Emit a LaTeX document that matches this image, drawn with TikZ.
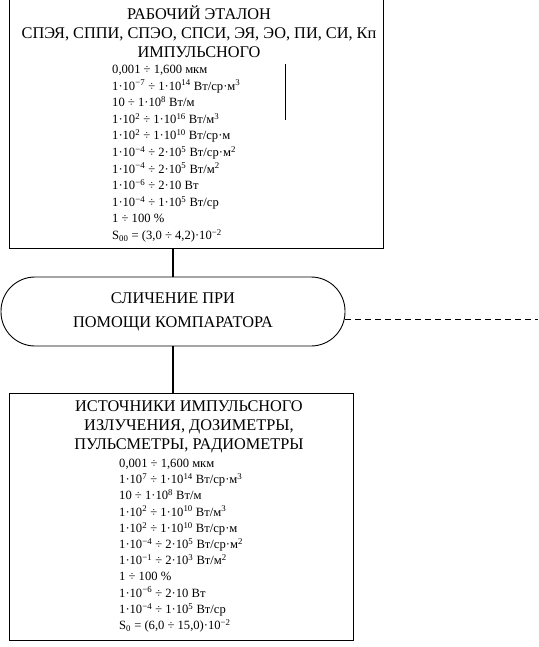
\documentclass[tikz,border=0pt]{standalone}
\usepackage{fontspec}
\setmainfont{Liberation Serif}
\usetikzlibrary{positioning}

\tikzset{
    frame/.style={draw, line width=0.9pt, rectangle, inner sep=0pt},
    stadium/.style={draw, line width=0.9pt, rectangle, rounded corners=34pt, inner sep=0pt,
        minimum width=344pt, minimum height=69pt},
    head/.style={align=center, font=\fontsize{16.3}{19}\selectfont, inner sep=0pt},
    data/.style={align=left, anchor=north west, font=\fontsize{12.6}{16.2}\selectfont, inner sep=0pt},
    link/.style={line width=1.6pt}
}

\begin{document}
\begin{tikzpicture}[x=1pt, y=-1pt]
            \useasboundingbox (0,0) rectangle (538,647);

            % рабочий эталон
            \node[frame, minimum width=374pt, minimum height=250pt] (etalon) at (196,123) {};
            \node[head] (etalonhead) at (199,32) {РАБОЧИЙ ЭТАЛОН\\
                СПЭЯ, СППИ, СПЭО, СПСИ, ЭЯ, ЭО, ПИ, СИ, Кп\\ ИМПУЛЬСНОГО};
            \node[data, font=\fontsize{12.6}{16.6}\selectfont] (etalondata) at (112,65) {0,001 ÷ 1,600 мкм\\
                1·10\textsuperscript{−7} ÷ 1·10\textsuperscript{14} Вт/ср·м\textsuperscript{3}\\
                10 ÷ 1·10\textsuperscript{8} Вт/м\\
                1·10\textsuperscript{2} ÷ 1·10\textsuperscript{16} Вт/м\textsuperscript{3}\\
                1·10\textsuperscript{2} ÷ 1·10\textsuperscript{10} Вт/ср·м\\
                1·10\textsuperscript{−4} ÷ 2·10\textsuperscript{5} Вт/ср·м\textsuperscript{2}\\
                1·10\textsuperscript{−4} ÷ 2·10\textsuperscript{5} Вт/м\textsuperscript{2}\\
                1·10\textsuperscript{−6} ÷ 2·10 Вт\\
                1·10\textsuperscript{−4} ÷ 1·10\textsuperscript{5} Вт/ср\\
                1 ÷ 100 \%\\
                S\textsubscript{00} = (3,0 ÷ 4,2)·10\textsuperscript{−2}};
            \draw[line width=0.9pt] (285,64) -- (285,120);

            % сличение
            \node[stadium, head] (compar) at (173,311.5) {СЛИЧЕНИЕ ПРИ\\[5pt] ПОМОЩИ КОМПАРАТОРА};
            \coordinate (dashend) at (538,319);
            \draw[line width=0.8pt, dash pattern=on 6pt off 4pt] (compar.east |- dashend) -- (dashend);

            % источники
            \node[frame, minimum width=344pt, minimum height=247pt] (istoch) at (181,516.5) {};
            \node[head] (istochhead) at (189,427) {ИСТОЧНИКИ ИМПУЛЬСНОГО\\
                ИЗЛУЧЕНИЯ, ДОЗИМЕТРЫ,\\ ПУЛЬСМЕТРЫ, РАДИОМЕТРЫ};
            \node[data] (istochdata) at (119,459) {0,001 ÷ 1,600 мкм\\
                1·10\textsuperscript{7} ÷ 1·10\textsuperscript{14} Вт/ср·м\textsuperscript{3}\\
                10 ÷ 1·10\textsuperscript{8} Вт/м\\
                1·10\textsuperscript{2} ÷ 1·10\textsuperscript{10} Вт/м\textsuperscript{3}\\
                1·10\textsuperscript{2} ÷ 1·10\textsuperscript{10} Вт/ср·м\\
                1·10\textsuperscript{−4} ÷ 2·10\textsuperscript{5} Вт/ср·м\textsuperscript{2}\\
                1·10\textsuperscript{−1} ÷ 2·10\textsuperscript{3} Вт/м\textsuperscript{2}\\
                1 ÷ 100 \%\\
                1·10\textsuperscript{−6} ÷ 2·10 Вт\\
                1·10\textsuperscript{−4} ÷ 1·10\textsuperscript{5} Вт/ср\\
                S\textsubscript{0} = (6,0 ÷ 15,0)·10\textsuperscript{−2}};

            % связи
            \draw[link] (compar.north |- etalon.south) -- (compar.north);
            \draw[link] (compar.south) -- (compar.south |- istoch.north);
        \end{tikzpicture}
\end{document}
